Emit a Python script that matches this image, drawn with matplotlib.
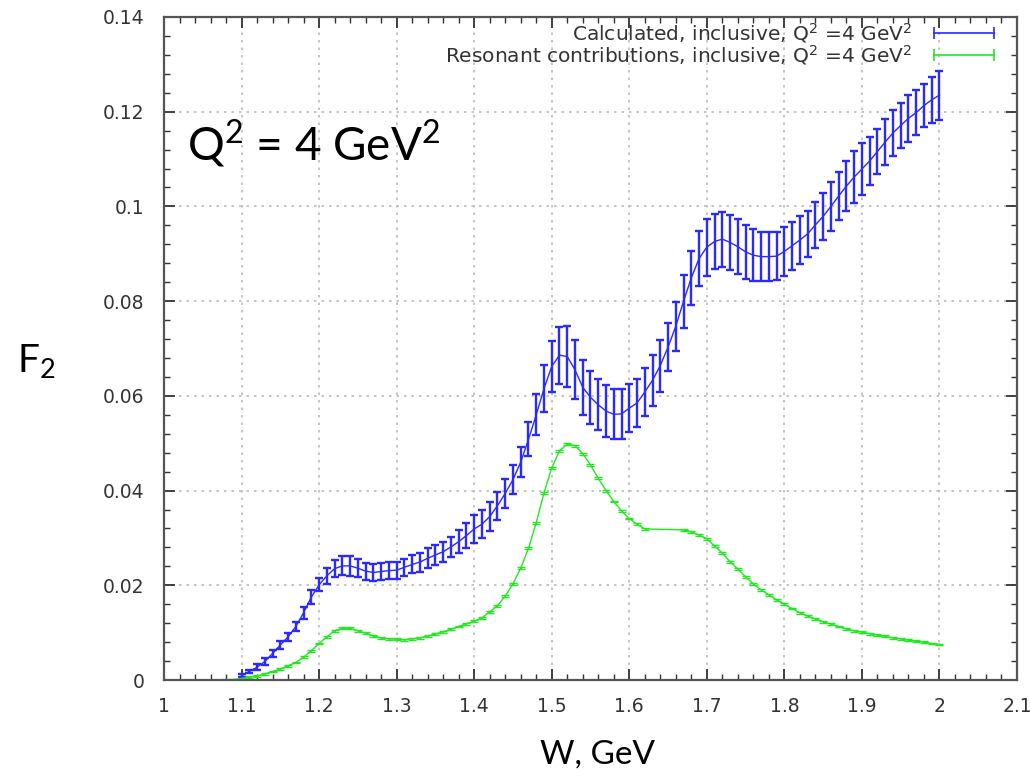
import matplotlib
matplotlib.use("Agg")
import matplotlib.pyplot as plt
from matplotlib.lines import Line2D
from matplotlib.ticker import MultipleLocator, FormatStrFormatter
import numpy as np

# calculated inclusive F2, W from 1.10 to 2.00 in steps of 0.01
w_calc = np.round(np.arange(1.10, 2.001, 0.01), 2)
f2_calc = [
    0.0009, 0.0018, 0.0027, 0.0039, 0.0056, 0.0074, 0.0091, 0.0113, 0.0142, 0.0175,
    0.0201, 0.0220, 0.0235, 0.0241, 0.0241, 0.0236, 0.0230, 0.0227, 0.0229, 0.0231,
    0.0232, 0.0238, 0.0244, 0.0249, 0.0257, 0.0264, 0.0271, 0.0281, 0.0292, 0.0305,
    0.0319, 0.0329, 0.0345, 0.0368, 0.0394, 0.0423, 0.0460, 0.0508, 0.0560, 0.0615,
    0.0662, 0.0686, 0.0683, 0.0655, 0.0618, 0.0597, 0.0581, 0.0568, 0.0561, 0.0562,
    0.0574, 0.0585, 0.0608, 0.0633, 0.0664, 0.0703, 0.0747, 0.0800, 0.0849, 0.0890,
    0.0914, 0.0926, 0.0931, 0.0924, 0.0915, 0.0904, 0.0897, 0.0894, 0.0894, 0.0895,
    0.0905, 0.0917, 0.0929, 0.0942, 0.0961, 0.0979, 0.1000, 0.1022, 0.1043, 0.1062,
    0.1079, 0.1096, 0.1116, 0.1136, 0.1155, 0.1171, 0.1186, 0.1198, 0.1213, 0.1225,
    0.1235,
]
err_calc = [
    0.0003, 0.0004, 0.0006, 0.0008, 0.0008, 0.0009, 0.0009, 0.0010, 0.0013, 0.0014,
    0.0014, 0.0017, 0.0018, 0.0020, 0.0021, 0.0019, 0.0018, 0.0019, 0.0018, 0.0018,
    0.0018, 0.0018, 0.0019, 0.0020, 0.0021, 0.0021, 0.0021, 0.0022, 0.0024, 0.0027,
    0.0029, 0.0029, 0.0031, 0.0030, 0.0031, 0.0031, 0.0032, 0.0036, 0.0043, 0.0050,
    0.0053, 0.0060, 0.0064, 0.0062, 0.0058, 0.0056, 0.0054, 0.0054, 0.0053, 0.0053,
    0.0051, 0.0050, 0.0051, 0.0054, 0.0055, 0.0050, 0.0052, 0.0056, 0.0057, 0.0059,
    0.0060, 0.0058, 0.0058, 0.0058, 0.0058, 0.0057, 0.0055, 0.0052, 0.0052, 0.0050,
    0.0052, 0.0051, 0.0051, 0.0049, 0.0049, 0.0049, 0.0051, 0.0051, 0.0052, 0.0054,
    0.0055, 0.0050, 0.0048, 0.0049, 0.0049, 0.0048, 0.0049, 0.0047, 0.0046, 0.0049,
    0.0052,
]

# resonant contributions (no points between 1.63 and 1.66)
w_res = [
    1.08, 1.09, 1.10, 1.11, 1.12, 1.13, 1.14, 1.15, 1.16, 1.17, 1.18, 1.19,
    1.20, 1.21, 1.22, 1.23, 1.24, 1.25, 1.26, 1.27, 1.28, 1.29, 1.30, 1.31,
    1.32, 1.33, 1.34, 1.35, 1.36, 1.37, 1.38, 1.39, 1.40, 1.41, 1.42, 1.43,
    1.44, 1.45, 1.46, 1.47, 1.48, 1.49, 1.50, 1.51, 1.52, 1.53, 1.54, 1.55,
    1.56, 1.57, 1.58, 1.59, 1.60, 1.61, 1.62, 1.67, 1.68, 1.69, 1.70, 1.71,
    1.72, 1.73, 1.74, 1.75, 1.76, 1.77, 1.78, 1.79, 1.80, 1.81, 1.82, 1.83,
    1.84, 1.85, 1.86, 1.87, 1.88, 1.89, 1.90, 1.91, 1.92, 1.93, 1.94, 1.95,
    1.96, 1.97, 1.98, 1.99, 2.00,
]
f2_res = [
    0.0000, 0.0001, 0.0003, 0.0006, 0.0008, 0.0013, 0.0018, 0.0023, 0.0030, 0.0037, 0.0048, 0.0062,
    0.0077, 0.0091, 0.0104, 0.0109, 0.0109, 0.0104, 0.0099, 0.0093, 0.0089, 0.0087, 0.0086, 0.0085,
    0.0087, 0.0089, 0.0093, 0.0097, 0.0102, 0.0107, 0.0113, 0.0119, 0.0124, 0.0131, 0.0144, 0.0157,
    0.0177, 0.0203, 0.0236, 0.0278, 0.0332, 0.0395, 0.0448, 0.0484, 0.0498, 0.0495, 0.0478, 0.0454,
    0.0426, 0.0400, 0.0377, 0.0357, 0.0341, 0.0329, 0.0319, 0.0317, 0.0313, 0.0306, 0.0298, 0.0283,
    0.0268, 0.0250, 0.0234, 0.0218, 0.0203, 0.0190, 0.0180, 0.0169, 0.0160, 0.0151, 0.0142, 0.0135,
    0.0129, 0.0123, 0.0118, 0.0113, 0.0108, 0.0104, 0.0101, 0.0098, 0.0095, 0.0092, 0.0089, 0.0087,
    0.0084, 0.0082, 0.0080, 0.0077, 0.0075,
]
err_res = 0.0002

blue = "#2a2aff"
green = "#22e822"
label_font = ["Lato", "DejaVu Sans"]

fig = plt.figure(figsize=(10.30, 7.84), dpi=100)
ax = fig.add_axes([164 / 1030, 1 - 680 / 784, 853 / 1030, 663 / 784])

ax.errorbar(w_calc, f2_calc, yerr=err_calc, color=blue, lw=1, elinewidth=1.7,
            capsize=3, capthick=1.7)
ax.errorbar(w_res, f2_res, yerr=err_res, color=green, lw=1, elinewidth=1,
            capsize=3, capthick=1)

ax.set_xlim(1, 2.1)
ax.set_ylim(0, 0.14)
ax.xaxis.set_major_locator(MultipleLocator(0.1))
ax.xaxis.set_minor_locator(MultipleLocator(0.02))
ax.yaxis.set_major_locator(MultipleLocator(0.02))
ax.yaxis.set_minor_locator(MultipleLocator(0.004))
ax.xaxis.set_major_formatter(FormatStrFormatter("%g"))
ax.yaxis.set_major_formatter(FormatStrFormatter("%g"))
ax.tick_params(which="both", direction="in", top=True, right=True,
               color="#333333", labelcolor="#333333", labelsize=13.5)
ax.tick_params(which="major", length=8, width=1.3)
ax.tick_params(which="minor", length=4, width=1)
ax.tick_params(axis="y", pad=14)
ax.tick_params(axis="x", pad=12)
for s in ax.spines.values():
    s.set_color("#555555")
    s.set_linewidth(1.6)
ax.grid(True, which="major", color="#bbbbbb", linestyle=(0, (1.5, 3)), lw=1.2)

ax.set_xlabel("W, GeV", fontsize=24, family=label_font, va="top")
ax.xaxis.set_label_coords(0.508, -0.09)
ax.set_ylabel(r"F$_\mathregular{2}$", fontsize=28, family=label_font,
              rotation=0, ha="center", va="center")
ax.yaxis.set_label_coords(-0.15, 0.48)

ax.text(1.03, 0.1133, r"Q$^\mathregular{2}$ = 4 GeV$^\mathregular{2}$",
        fontsize=33, family=label_font, va="center")

handles = [
    Line2D([], [], color=blue, lw=1.2, marker="|", markersize=8, mew=1.2),
    Line2D([], [], color=green, lw=1.2, marker="|", markersize=8, mew=1.2),
]
labels = [
    r"Calculated, inclusive, Q$^\mathregular{2}$ =4 GeV$^\mathregular{2}$",
    r"Resonant contributions, inclusive, Q$^\mathregular{2}$ =4 GeV$^\mathregular{2}$",
]
leg = ax.legend(handles, labels, loc="upper right", frameon=False,
                markerfirst=False, numpoints=2, handlelength=3.6,
                fontsize=14.5, labelspacing=-0.1, borderaxespad=0.0,
                handletextpad=0.8, bbox_to_anchor=(0.99, 1.006))
for t in leg.get_texts():
    t.set_color("#333333")

fig.savefig("out.png", dpi=100)
